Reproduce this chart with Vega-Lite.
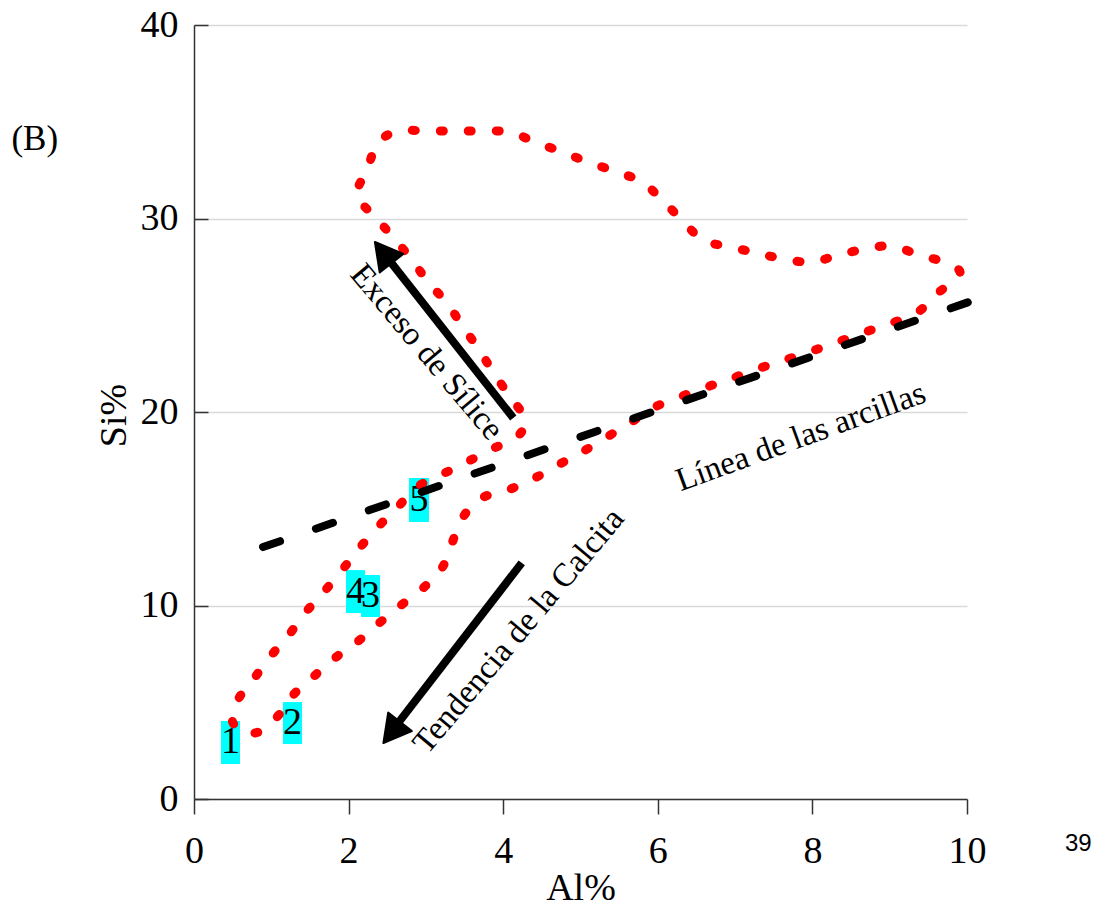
{
  "$schema": "https://vega.github.io/schema/vega-lite/v6.json",
  "width": 773,
  "height": 774,
  "autosize": {"type": "none"},
  "padding": {"left": 194, "top": 25, "right": 134, "bottom": 112},
  "background": "white",
  "config": {"view": {"stroke": null}, "font": "Liberation Serif"},
  "datasets": {
    "loop": [
      {"i": 1, "al": 0.505, "si": 3.93}, {"i": 2, "al": 0.789, "si": 3.41}, {"i": 3, "al": 1.074, "si": 4.24},
      {"i": 4, "al": 1.281, "si": 5.37}, {"i": 5, "al": 1.539, "si": 6.30}, {"i": 6, "al": 1.824, "si": 7.29},
      {"i": 7, "al": 2.109, "si": 8.11}, {"i": 8, "al": 2.380, "si": 9.04}, {"i": 9, "al": 2.665, "si": 9.97},
      {"i": 10, "al": 2.963, "si": 10.90}, {"i": 11, "al": 3.208, "si": 11.94}, {"i": 12, "al": 3.338, "si": 13.23},
      {"i": 13, "al": 3.480, "si": 14.57}, {"i": 14, "al": 3.726, "si": 15.56}, {"i": 15, "al": 4.062, "si": 15.97},
      {"i": 16, "al": 4.386, "si": 16.54}, {"i": 17, "al": 4.709, "si": 17.26}, {"i": 18, "al": 5.019, "si": 17.93},
      {"i": 19, "al": 5.343, "si": 18.71}, {"i": 20, "al": 5.640, "si": 19.43}, {"i": 21, "al": 5.938, "si": 20.21},
      {"i": 22, "al": 6.287, "si": 20.78}, {"i": 23, "al": 6.637, "si": 21.29}, {"i": 24, "al": 6.973, "si": 21.76},
      {"i": 25, "al": 7.322, "si": 22.27}, {"i": 26, "al": 7.646, "si": 22.69}, {"i": 27, "al": 7.995, "si": 23.15},
      {"i": 28, "al": 8.331, "si": 23.62}, {"i": 29, "al": 8.681, "si": 24.13}, {"i": 30, "al": 9.030, "si": 24.60},
      {"i": 31, "al": 9.366, "si": 25.17}, {"i": 32, "al": 9.625, "si": 26.15}, {"i": 33, "al": 9.909, "si": 27.13},
      {"i": 34, "al": 9.741, "si": 27.70}, {"i": 35, "al": 9.379, "si": 28.11}, {"i": 36, "al": 9.030, "si": 28.58},
      {"i": 37, "al": 8.681, "si": 28.42}, {"i": 38, "al": 8.331, "si": 28.11}, {"i": 39, "al": 7.995, "si": 27.75},
      {"i": 40, "al": 7.620, "si": 27.91}, {"i": 41, "al": 7.283, "si": 28.22}, {"i": 42, "al": 6.934, "si": 28.53},
      {"i": 43, "al": 6.585, "si": 28.89}, {"i": 44, "al": 6.313, "si": 29.92}, {"i": 45, "al": 6.054, "si": 30.96},
      {"i": 46, "al": 5.796, "si": 31.89}, {"i": 47, "al": 5.472, "si": 32.40}, {"i": 48, "al": 5.097, "si": 32.92},
      {"i": 49, "al": 4.761, "si": 33.44}, {"i": 50, "al": 4.411, "si": 33.95}, {"i": 51, "al": 4.088, "si": 34.47},
      {"i": 52, "al": 3.726, "si": 34.52}, {"i": 53, "al": 3.376, "si": 34.52}, {"i": 54, "al": 3.014, "si": 34.52},
      {"i": 55, "al": 2.639, "si": 34.52}, {"i": 56, "al": 2.380, "si": 33.90}, {"i": 57, "al": 2.238, "si": 32.51},
      {"i": 58, "al": 2.109, "si": 31.21}, {"i": 59, "al": 2.342, "si": 30.08}, {"i": 60, "al": 2.574, "si": 29.04},
      {"i": 61, "al": 2.820, "si": 27.86}, {"i": 62, "al": 3.027, "si": 26.72}, {"i": 63, "al": 3.273, "si": 25.63},
      {"i": 64, "al": 3.480, "si": 24.39}, {"i": 65, "al": 3.674, "si": 23.31}, {"i": 66, "al": 3.868, "si": 22.07},
      {"i": 67, "al": 4.088, "si": 20.78}, {"i": 68, "al": 4.282, "si": 19.64}, {"i": 69, "al": 4.179, "si": 18.71},
      {"i": 70, "al": 3.855, "si": 18.09}, {"i": 71, "al": 3.532, "si": 17.42}, {"i": 72, "al": 3.221, "si": 16.80},
      {"i": 73, "al": 2.885, "si": 16.12}, {"i": 74, "al": 2.626, "si": 15.04}, {"i": 75, "al": 2.367, "si": 14.01},
      {"i": 76, "al": 2.122, "si": 12.87}, {"i": 77, "al": 1.915, "si": 11.83}, {"i": 78, "al": 1.669, "si": 10.65},
      {"i": 79, "al": 1.436, "si": 9.61}, {"i": 80, "al": 1.216, "si": 8.42}, {"i": 81, "al": 0.983, "si": 7.34},
      {"i": 82, "al": 0.763, "si": 6.15}, {"i": 83, "al": 0.569, "si": 5.12}
    ],
    "clay": [
      {"al": 0.893, "si": 13.02},
      {"al": 10.10, "si": 25.79}
    ],
    "shafts": [
      {"arrow": "silice", "al": 4.13, "si": 19.69},
      {"arrow": "silice", "al": 2.46, "si": 28.18},
      {"arrow": "calcita", "al": 4.24, "si": 12.20},
      {"arrow": "calcita", "al": 2.56, "si": 3.51}
    ],
    "heads": [
      {"arrow": "silice", "al": 2.34, "si": 28.79},
      {"arrow": "calcita", "al": 2.45, "si": 2.89}
    ],
    "boxes": [
      {"label": "1", "al0": 0.349, "al1": 0.595, "si0": 1.81, "si1": 4.03},
      {"label": "2", "al0": 1.151, "al1": 1.397, "si0": 2.84, "si1": 5.01},
      {"label": "4", "al0": 1.966, "al1": 2.212, "si0": 9.61, "si1": 11.83},
      {"label": "3", "al0": 2.160, "al1": 2.406, "si0": 9.41, "si1": 11.58},
      {"label": "5", "al0": 2.781, "al1": 3.040, "si0": 14.32, "si1": 16.59}
    ],
    "labels": [
      {"label": "1", "al": 0.472, "si": 2.92},
      {"label": "2", "al": 1.274, "si": 3.93},
      {"label": "4", "al": 2.089, "si": 10.72},
      {"label": "3", "al": 2.283, "si": 10.49},
      {"label": "5", "al": 2.911, "si": 15.45}
    ],
    "notes": [
      {"note": "Exceso de Sílice", "al": 3.01, "si": 23.10},
      {"note": "Tendencia de la Calcita", "al": 4.20, "si": 8.68},
      {"note": "Línea de las arcillas", "al": 7.85, "si": 18.71},
      {"note": "(B)", "al": -2.06, "si": 33.54},
      {"note": "39", "al": 11.44, "si": -2.33}
    ]
  },
  "layer": [
    {
      "data": {"name": "boxes"},
      "mark": {"type": "rect", "color": "#00ffff"},
      "encoding": {
        "x": {"field": "al0", "type": "quantitative",
          "scale": {"domain": [0, 10], "nice": false, "zero": false},
          "axis": {
            "title": "Al%", "values": [0, 2, 4, 6, 8, 10], "format": "d", "grid": false,
            "labelFont": "Liberation Serif", "labelFontSize": 38, "labelColor": "black",
            "labelPadding": 18, "labelFlush": false, "labelOverlap": false,
            "tickSize": 15, "tickColor": "#333", "tickWidth": 1.5,
            "domainColor": "#333", "domainWidth": 1.5,
            "titleFont": "Liberation Serif", "titleFontSize": 38, "titleFontWeight": "normal",
            "titleColor": "black", "titleBaseline": "middle", "titleY": 89
          }
        },
        "x2": {"field": "al1"},
        "y": {"field": "si0", "type": "quantitative",
          "scale": {"domain": [0, 40], "nice": false, "zero": false},
          "axis": {
            "title": "Si%", "values": [0, 10, 20, 30, 40], "format": "d", "grid": true,
            "gridColor": "#d9d9d9", "gridWidth": 1.5,
            "labelFont": "Liberation Serif", "labelFontSize": 38, "labelColor": "black",
            "labelPadding": 30, "labelFlush": false, "labelOverlap": false,
            "tickSize": -14, "tickColor": "#333", "tickWidth": 1.5,
            "domainColor": "#333", "domainWidth": 1.5,
            "titleFont": "Liberation Serif", "titleFontSize": 38, "titleFontWeight": "normal",
            "titleColor": "black", "titleAngle": -90, "titleBaseline": "middle", "titleAlign": "center",
            "titleX": -80, "titleY": 390
          }
        },
        "y2": {"field": "si1"}
      }
    },
    {
      "data": {"name": "labels"},
      "mark": {"type": "text", "font": "Liberation Serif", "fontSize": 38, "color": "black", "align": "center", "baseline": "middle"},
      "encoding": {
        "x": {"field": "al", "type": "quantitative"},
        "y": {"field": "si", "type": "quantitative"},
        "text": {"field": "label"}
      }
    },
    {
      "data": {"name": "loop"},
      "mark": {"type": "line", "color": "#ff0000", "strokeWidth": 9, "strokeDash": [3, 25], "strokeCap": "round", "interpolate": "cardinal-closed"},
      "encoding": {
        "x": {"field": "al", "type": "quantitative"},
        "y": {"field": "si", "type": "quantitative"},
        "order": {"field": "i", "type": "quantitative"}
      }
    },
    {
      "data": {"name": "clay"},
      "mark": {"type": "line", "color": "black", "strokeWidth": 8, "strokeDash": [18, 38], "strokeCap": "round"},
      "encoding": {
        "x": {"field": "al", "type": "quantitative"},
        "y": {"field": "si", "type": "quantitative"}
      }
    },
    {
      "data": {"name": "shafts"},
      "mark": {"type": "line", "color": "black", "strokeWidth": 8, "strokeCap": "butt"},
      "encoding": {
        "x": {"field": "al", "type": "quantitative"},
        "y": {"field": "si", "type": "quantitative"},
        "detail": {"field": "arrow"}
      }
    },
    {
      "data": {"name": "heads"},
      "transform": [{"filter": "datum.arrow === 'silice'"}],
      "mark": {"type": "point", "shape": "M0,0L-0.5,0.9L0.5,0.9Z", "size": 3600, "filled": true, "color": "black", "opacity": 1, "angle": 322, "stroke": "black", "strokeWidth": 2, "strokeJoin": "round"},
      "encoding": {
        "x": {"field": "al", "type": "quantitative"},
        "y": {"field": "si", "type": "quantitative"}
      }
    },
    {
      "data": {"name": "heads"},
      "transform": [{"filter": "datum.arrow === 'calcita'"}],
      "mark": {"type": "point", "shape": "M0,0L-0.5,0.9L0.5,0.9Z", "size": 3600, "filled": true, "color": "black", "opacity": 1, "angle": 218, "stroke": "black", "strokeWidth": 2, "strokeJoin": "round"},
      "encoding": {
        "x": {"field": "al", "type": "quantitative"},
        "y": {"field": "si", "type": "quantitative"}
      }
    },
    {
      "data": {"name": "notes"},
      "transform": [{"filter": "datum.note === 'Exceso de Sílice'"}],
      "mark": {"type": "text", "font": "Liberation Serif", "fontSize": 33, "color": "black", "align": "center", "baseline": "middle", "angle": 50},
      "encoding": {
        "x": {"field": "al", "type": "quantitative"},
        "y": {"field": "si", "type": "quantitative"},
        "text": {"field": "note"}
      }
    },
    {
      "data": {"name": "notes"},
      "transform": [{"filter": "datum.note === 'Tendencia de la Calcita'"}],
      "mark": {"type": "text", "font": "Liberation Serif", "fontSize": 33, "color": "black", "align": "center", "baseline": "middle", "angle": -50},
      "encoding": {
        "x": {"field": "al", "type": "quantitative"},
        "y": {"field": "si", "type": "quantitative"},
        "text": {"field": "note"}
      }
    },
    {
      "data": {"name": "notes"},
      "transform": [{"filter": "datum.note === 'Línea de las arcillas'"}],
      "mark": {"type": "text", "font": "Liberation Serif", "fontSize": 33, "color": "black", "align": "center", "baseline": "middle", "angle": -20},
      "encoding": {
        "x": {"field": "al", "type": "quantitative"},
        "y": {"field": "si", "type": "quantitative"},
        "text": {"field": "note"}
      }
    },
    {
      "data": {"name": "notes"},
      "transform": [{"filter": "datum.note === '(B)'"}],
      "mark": {"type": "text", "font": "Liberation Serif", "fontSize": 35, "color": "black", "align": "center", "baseline": "alphabetic"},
      "encoding": {
        "x": {"field": "al", "type": "quantitative"},
        "y": {"field": "si", "type": "quantitative"},
        "text": {"field": "note"}
      }
    },
    {
      "data": {"name": "notes"},
      "transform": [{"filter": "datum.note === '39'"}],
      "mark": {"type": "text", "font": "Liberation Sans", "fontSize": 24, "color": "black", "align": "center", "baseline": "middle"},
      "encoding": {
        "x": {"field": "al", "type": "quantitative"},
        "y": {"field": "si", "type": "quantitative"},
        "text": {"field": "note"}
      }
    }
  ]
}
